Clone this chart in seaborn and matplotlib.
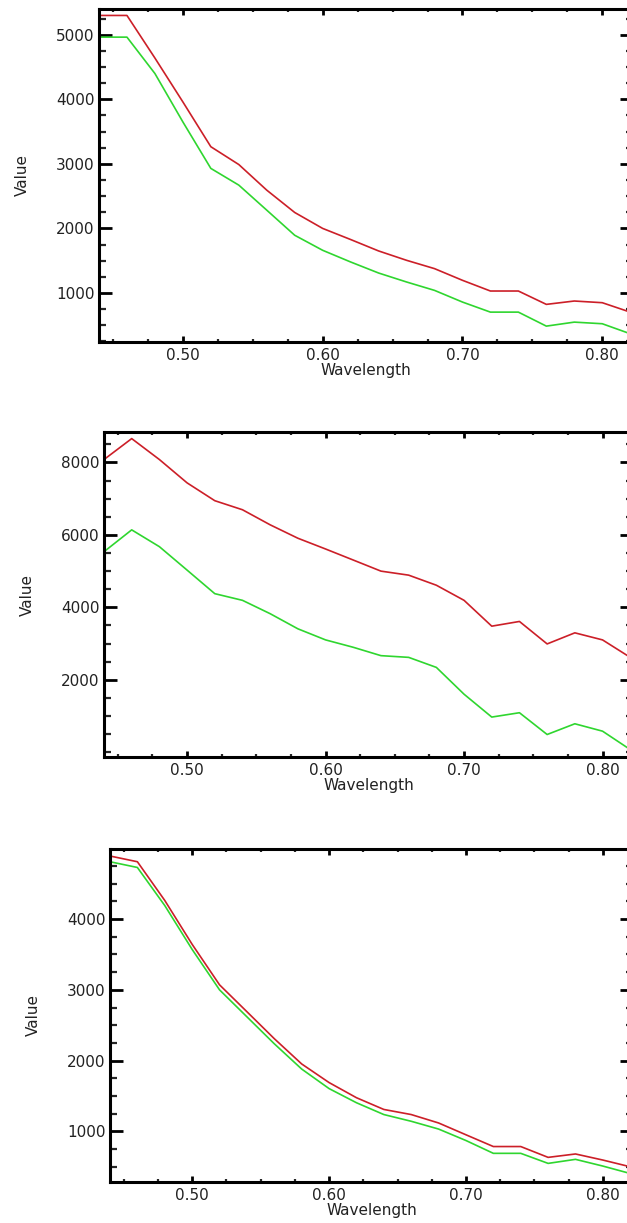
import numpy as np
import pandas as pd
import seaborn as sns
import matplotlib
matplotlib.use("Agg")
import matplotlib.pyplot as plt
from matplotlib.ticker import FixedLocator, MultipleLocator, FormatStrFormatter

# ---------------- data ----------------
wavelength = [0.44, 0.46, 0.48, 0.50, 0.52, 0.54, 0.56, 0.58, 0.60, 0.62,
              0.64, 0.66, 0.68, 0.70, 0.72, 0.74, 0.76, 0.78, 0.80, 0.82]

p1_red = [5300, 5300, 4640, 3960, 3266, 2990, 2593, 2247, 2000, 1828,
          1651, 1506, 1377, 1196, 1030, 1030, 823, 875, 849, 703]
p1_green = [4964, 4964, 4400, 3650, 2930, 2671, 2283, 1894, 1661, 1480,
            1309, 1170, 1040, 859, 703, 703, 486, 548, 523, 368]

p2_red = [8080, 8658, 8080, 7436, 6944, 6694, 6278, 5908, 5611, 5306,
          5000, 4889, 4611, 4194, 3481, 3611, 2991, 3297, 3102, 2620]
p2_green = [5536, 6139, 5675, 5028, 4378, 4194, 3825, 3408, 3102, 2898,
            2667, 2620, 2343, 1603, 972, 1092, 491, 787, 583, 75]

p3_red = [4891, 4810, 4263, 3643, 3071, 2691, 2310, 1953, 1690, 1476,
          1310, 1238, 1119, 952, 786, 786, 633, 681, 595, 500]
p3_green = [4810, 4729, 4191, 3571, 3000, 2619, 2238, 1881, 1605, 1405,
            1238, 1143, 1033, 871, 690, 690, 548, 605, 510, 405]

x_major = [0.50, 0.60, 0.70, 0.80]
p1_yticks = [1000, 2000, 3000, 4000, 5000]
p2_yticks = [2000, 4000, 6000, 8000]
p3_yticks = [1000, 2000, 3000, 4000]

# ---------------- style ----------------
sns.set_style("ticks")
plt.rcParams["font.family"] = ["DejaVu Sans"]

RED = "#cc1f28"
GREEN = "#2fd62f"

W, H = 627, 1223
fig = plt.figure(figsize=(W / 100, H / 100), dpi=100)
fig.patch.set_facecolor("white")

def px_rect(left, right, top, bottom):
    return [left / W, 1 - bottom / H, (right - left) / W, (bottom - top) / H]

panels = [
    dict(rect=px_rect(99, 633, 9, 342), red=p1_red, green=p1_green,
         ylim=(240, 5400), yt=p1_yticks, ymin=250),
    dict(rect=px_rect(104, 633, 432, 757), red=p2_red, green=p2_green,
         ylim=(-130, 8840), yt=p2_yticks, ymin=500),
    dict(rect=px_rect(110, 633, 849, 1182), red=p3_red, green=p3_green,
         ylim=(285, 4990), yt=p3_yticks, ymin=250),
]

for p in panels:
    ax = fig.add_axes(p["rect"])
    ax.set_facecolor("white")
    df = pd.DataFrame({"Wavelength": wavelength, "red": p["red"], "green": p["green"]})
    sns.lineplot(data=df, x="Wavelength", y="red", color=RED, lw=1.2, ax=ax)
    sns.lineplot(data=df, x="Wavelength", y="green", color=GREEN, lw=1.2, ax=ax)
    ax.set_xlim(0.44, 0.822)
    ax.set_ylim(*p["ylim"])
    ax.xaxis.set_major_locator(FixedLocator(x_major))
    ax.xaxis.set_minor_locator(MultipleLocator(0.025))
    ax.xaxis.set_major_formatter(FormatStrFormatter("%.2f"))
    ax.yaxis.set_major_locator(FixedLocator(p["yt"]))
    ax.yaxis.set_minor_locator(MultipleLocator(p["ymin"]))
    ax.yaxis.set_major_formatter(FormatStrFormatter("%d"))
    for s in ax.spines.values():
        s.set_visible(True)
        s.set_linewidth(2.2)
        s.set_color("black")
    ax.tick_params(axis="x", which="major", direction="in", length=4.5, width=2.0,
                   top=True, bottom=True, labelsize=11, pad=4, colors="black")
    ax.tick_params(axis="x", which="minor", direction="in", length=2.2, width=1.6,
                   top=True, bottom=True)
    ax.tick_params(axis="y", which="major", direction="in", length=9.5, width=2.0,
                   left=True, right=True, labelsize=11, pad=3, colors="black")
    ax.tick_params(axis="y", which="minor", direction="in", length=5.0, width=1.6,
                   left=True, right=True)
    for lab in ax.get_xticklabels() + ax.get_yticklabels():
        lab.set_color("#222222")
    ax.set_xlabel("Wavelength", fontsize=11, labelpad=0, color="#222222")
    ax.set_ylabel("Value", fontsize=11, labelpad=19, color="#222222")

fig.savefig("out.png", dpi=100, facecolor="white")
